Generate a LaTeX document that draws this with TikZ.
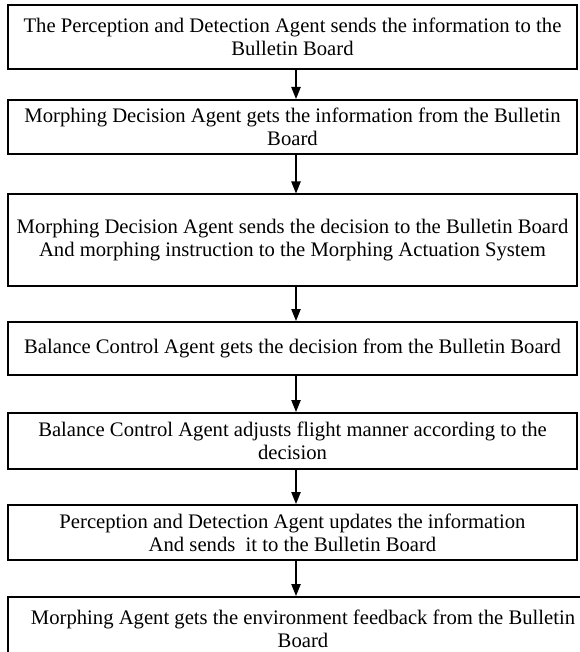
\documentclass[tikz,border=0pt]{standalone}
\usepackage{fontspec}
\setmainfont{Liberation Serif}
\usetikzlibrary{arrows.meta}
\begin{document}
\begin{tikzpicture}[x=0.75pt,y=-0.75pt,
  stepbox/.style={draw=black, line width=1.5pt, rectangle, inner sep=0pt, align=center,
    minimum width=426.75pt, font=\fontsize{15.5}{17.5}\selectfont},
  flow/.style={line width=1pt, -{Triangle[length=9pt,width=7pt]}}]
\useasboundingbox (0,0) rectangle (580,652);
\clip (0,0) rectangle (580,652);
\node[stepbox, minimum height=48pt] (b1) at (292.5,37) {The Perception and Detection Agent sends the information to the\\Bulletin Board};
\node[stepbox, minimum height=40.5pt] (b2) at (292.5,127) {Morphing Decision Agent gets the information from the Bulletin\\Board};
\node[stepbox, minimum height=68.25pt] (b3) at (292.5,240) {Morphing Decision Agent sends the decision to the Bulletin Board\\And morphing instruction to the Morphing Actuation System};
\node[stepbox, minimum height=39.75pt] (b4) at (292.5,348.5) {Balance Control Agent gets the decision from the Bulletin Board};
\node[stepbox, minimum height=42pt] (b5) at (292.5,441) {Balance Control Agent adjusts flight manner according to the\\decision};
\node[stepbox, minimum height=41.25pt] (b6) at (292.5,532.5) {Perception and Detection Agent updates the information\\And sends\ \ it to the Bulletin Board};
\node[stepbox, minimum height=47.25pt, minimum width=442.5pt] (b7) at (303,628.5) {Morphing Agent gets the environment feedback from the Bulletin\\Board};
\draw[flow] (b1.south -| 296,0) -- (b2.north -| 296,0);
\draw[flow] (b2.south -| 296,0) -- (b3.north -| 296,0);
\draw[flow] (b3.south -| 296,0) -- (b4.north -| 296,0);
\draw[flow] (b4.south -| 296,0) -- (b5.north -| 296,0);
\draw[flow] (b5.south -| 296,0) -- (b6.north -| 296,0);
\draw[flow] (b6.south -| 296,0) -- (b7.north -| 296,0);
\end{tikzpicture}
\end{document}
